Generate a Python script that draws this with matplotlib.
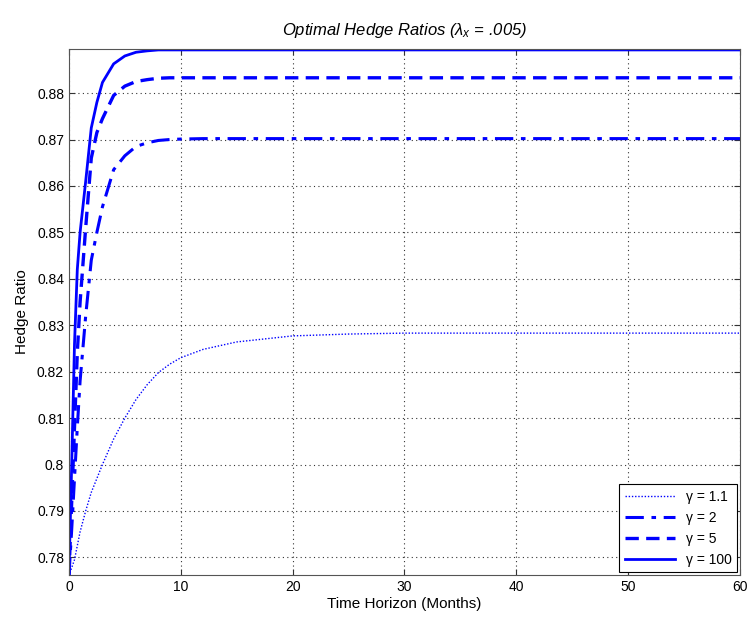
import matplotlib
matplotlib.use("Agg")
import matplotlib.pyplot as plt
from matplotlib.ticker import FuncFormatter

plt.rcParams['font.family'] = ['Liberation Sans', 'DejaVu Sans']
plt.rcParams['mathtext.fontset'] = 'custom'
plt.rcParams['mathtext.it'] = 'Liberation Sans:italic'
plt.rcParams['mathtext.rm'] = 'Liberation Sans'

# time horizon in months
months = [0, 0.25, 0.5, 0.75, 1, 1.5, 2, 2.5, 3, 4, 5, 6, 7, 8, 9, 10, 12, 15, 20, 25, 30, 40, 60]

# hedge ratios for each risk aversion level
hr_g11 = [0.776, 0.7778, 0.7795, 0.7825, 0.7855, 0.790, 0.794, 0.797, 0.800, 0.8055, 0.810,
          0.8140, 0.8172, 0.8198, 0.8216, 0.8230, 0.8248, 0.8264, 0.8277, 0.8281, 0.8283,
          0.8283, 0.8283]
hr_g2 = [0.776, 0.786, 0.797, 0.808, 0.818, 0.832, 0.844, 0.850, 0.8555, 0.8635, 0.8665,
         0.8685, 0.8693, 0.8698, 0.8700, 0.8701, 0.8702, 0.8702, 0.8702, 0.8702, 0.8702,
         0.8702, 0.8702]
hr_g5 = [0.776, 0.792, 0.808, 0.824, 0.835, 0.851, 0.866, 0.8715, 0.8745, 0.8795, 0.8815,
         0.8825, 0.8829, 0.8832, 0.8833, 0.8833, 0.8833, 0.8833, 0.8833, 0.8833, 0.8833,
         0.8833, 0.8833]
hr_g100 = [0.776, 0.800, 0.826, 0.842, 0.850, 0.861, 0.8725, 0.878, 0.8823, 0.8863, 0.8880,
           0.8888, 0.8891, 0.8893, 0.8893, 0.8893, 0.8893, 0.8893, 0.8893, 0.8893, 0.8893,
           0.8893, 0.8893]

labels = ['\u03b3 = 1.1', '\u03b3 = 2', '\u03b3 = 5', '\u03b3 = 100']
yticks = [0.78, 0.79, 0.80, 0.81, 0.82, 0.83, 0.84, 0.85, 0.86, 0.87, 0.88]

fig = plt.figure(figsize=(7.49, 6.25), dpi=100)
ax = fig.add_axes([0.092, 0.08, 0.896, 0.8416])

ax.plot(months, hr_g11, color='blue', lw=1.0, ls=(0, (1, 1.3)), label=labels[0])
ax.plot(months, hr_g2, color='blue', lw=2.2, ls=(0, (6, 2.5, 1.5, 2.5)), label=labels[1])
ax.plot(months, hr_g5, color='blue', lw=2.4, ls=(0, (4, 2.2)), label=labels[2])
ax.plot(months, hr_g100, color='blue', lw=2.0, ls='-', label=labels[3])

ax.set_xlim(0, 60)
ax.set_ylim(0.7762, 0.8895)
ax.set_xticks(range(0, 61, 10))
ax.set_yticks(yticks)
ax.yaxis.set_major_formatter(FuncFormatter(lambda v, p: '%g' % round(v, 2)))
ax.tick_params(direction='in', length=4, labelsize=10, top=True, right=True, color='#333333')
ax.grid(True, color='black', ls=(0, (1, 3)), lw=0.8, alpha=0.8)
for s in ax.spines.values():
    s.set_color('#555555')
    s.set_linewidth(0.8)

ax.set_xlabel('Time Horizon (Months)', fontsize=11, labelpad=2)
ax.set_ylabel('Hedge Ratio', fontsize=11, labelpad=6)
ax.set_title(r'Optimal Hedge Ratios ($\lambda_x$ = .005)', fontsize=12, style='italic', pad=10)

leg = ax.legend(loc='lower right', fontsize=10, fancybox=False, framealpha=1,
                edgecolor='black', borderaxespad=0.2, handlelength=3.6)
leg.get_frame().set_linewidth(0.8)

fig.savefig('out.png', dpi=100)
